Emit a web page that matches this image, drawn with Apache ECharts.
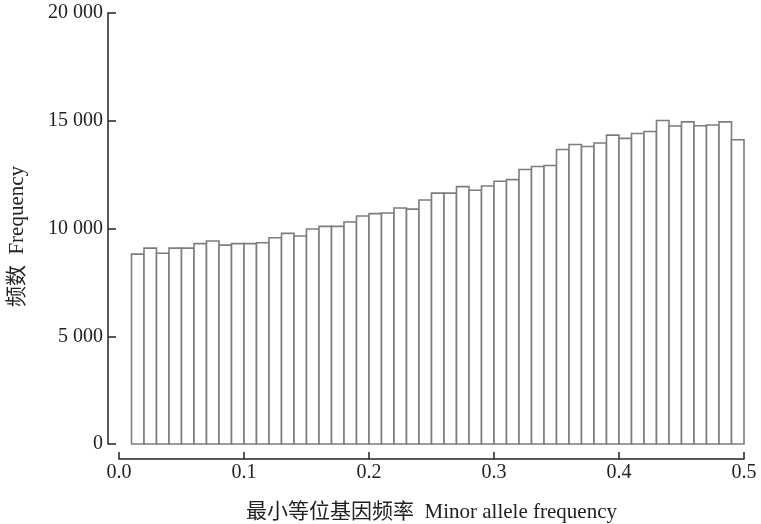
<!DOCTYPE html>
<html>
<head>
<meta charset="utf-8">
<script src="https://cdn.jsdelivr.net/npm/echarts@6/dist/echarts.min.js"></script>
<style>html,body{margin:0;padding:0;background:#fff;}#c{width:761px;height:524px;}</style>
</head>
<body>
<div id="c"></div>
<script>
var binWidth = 0.01;
var binStarts = [0.01,0.02,0.03,0.04,0.05,0.06,0.07,0.08,0.09,0.10,
  0.11,0.12,0.13,0.14,0.15,0.16,0.17,0.18,0.19,0.20,
  0.21,0.22,0.23,0.24,0.25,0.26,0.27,0.28,0.29,0.30,
  0.31,0.32,0.33,0.34,0.35,0.36,0.37,0.38,0.39,0.40,
  0.41,0.42,0.43,0.44,0.45,0.46,0.47,0.48,0.49];
var counts = [8810,9090,8850,9090,9090,9300,9420,9230,9300,9300,
  9340,9570,9775,9650,9975,10100,10100,10300,10580,10690,
  10720,10950,10900,11320,11640,11640,11945,11775,11975,12195,
  12270,12735,12875,12920,13665,13900,13805,13965,14335,14180,
  14410,14500,15010,14755,14950,14765,14800,14950,14115];
var xTicks = [0, 0.1, 0.2, 0.3, 0.4, 0.5];
var yTicks = [0, 5000, 10000, 15000, 20000];

var font = "'Liberation Serif','Noto Sans CJK SC',serif";
var data = binStarts.map(function (s, i) { return [s, s + binWidth, counts[i]]; });

var chart = echarts.init(document.getElementById('c'));
chart.setOption({
  animation: false,
  backgroundColor: '#fff',
  grid: { left: 119, right: 17, top: 13, bottom: 80, containLabel: false, outerBoundsMode: 'none' },
  xAxis: {
    type: 'value', min: xTicks[0], max: xTicks[xTicks.length - 1], interval: 0.1,
    offset: 15,
    name: '最小等位基因频率  Minor allele frequency',
    nameLocation: 'middle', nameGap: 43,
    nameTextStyle: { fontFamily: font, fontSize: 21, color: '#222' },
    axisLine: { show: true, onZero: false, lineStyle: { color: '#222', width: 1.5 } },
    axisTick: { show: true, inside: true, length: 7, lineStyle: { color: '#222', width: 1.5 } },
    axisLabel: { fontFamily: font, fontSize: 20, color: '#222', margin: 4,
      formatter: function (v) { return v.toFixed(1); } },
    splitLine: { show: false }
  },
  yAxis: {
    type: 'value', min: yTicks[0], max: yTicks[yTicks.length - 1], interval: 5000,
    offset: 11,
    name: '频数  Frequency',
    nameLocation: 'middle', nameGap: 80, nameRotate: 90,
    nameTextStyle: { fontFamily: font, fontSize: 21, color: '#222', padding: [0, 16, 0, 0] },
    axisLine: { show: true, onZero: false, lineStyle: { color: '#222', width: 1.5 } },
    axisTick: { show: true, inside: true, length: 8, lineStyle: { color: '#222', width: 1.5 } },
    axisLabel: { fontFamily: font, fontSize: 20, color: '#222', margin: 5,
      formatter: function (v) { return String(v).replace(/\B(?=(\d{3})+(?!\d))/g, ' '); } },
    splitLine: { show: false }
  },
  series: [{
    type: 'custom',
    data: data,
    encode: { x: [0, 1], y: 2 },
    renderItem: function (params, api) {
      var p0 = api.coord([api.value(0), 0]);
      var p1 = api.coord([api.value(1), api.value(2)]);
      return {
        type: 'rect',
        shape: { x: p0[0], y: p1[1], width: p1[0] - p0[0], height: p0[1] - p1[1] },
        style: { fill: '#fff', stroke: '#7d7d7d', lineWidth: 1.6 }
      };
    }
  }]
});
</script>
</body>
</html>
